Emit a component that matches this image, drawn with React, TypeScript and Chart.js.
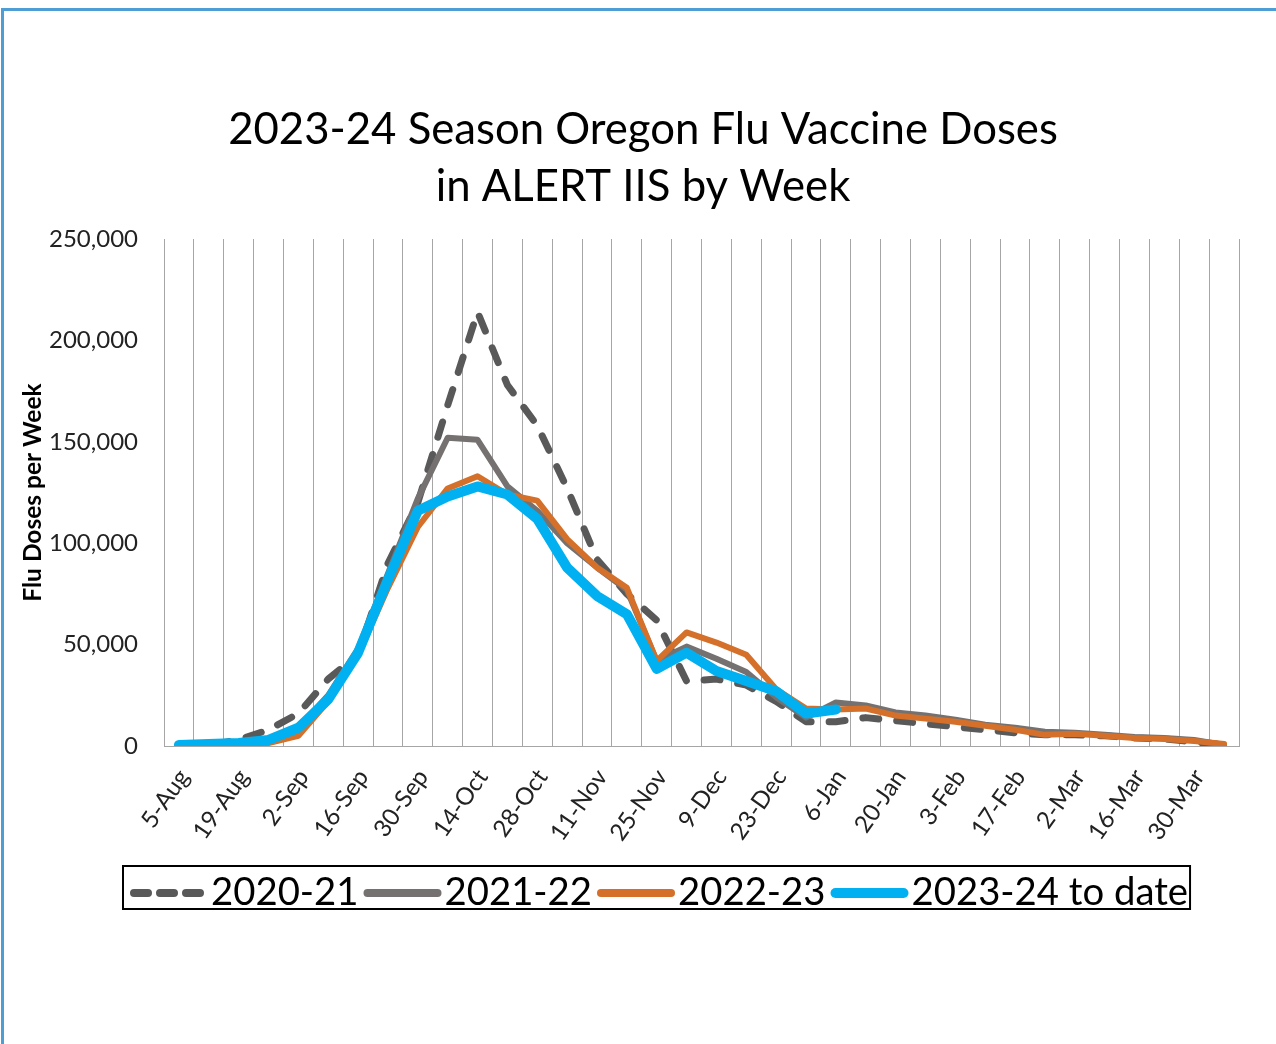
import React, { useEffect, useRef } from "react";
import { Chart, registerables } from "chart.js";

Chart.register(...registerables);

const weeks = [
  "5-Aug", "12-Aug", "19-Aug", "26-Aug", "2-Sep", "9-Sep", "16-Sep", "23-Sep", "30-Sep",
  "7-Oct", "14-Oct", "21-Oct", "28-Oct", "4-Nov", "11-Nov", "18-Nov", "25-Nov", "2-Dec",
  "9-Dec", "16-Dec", "23-Dec", "30-Dec", "6-Jan", "13-Jan", "20-Jan", "27-Jan", "3-Feb",
  "10-Feb", "17-Feb", "24-Feb", "2-Mar", "9-Mar", "16-Mar", "23-Mar", "30-Mar", "6-Apr",
];

const doses2020 = [
  0, 500, 3000, 8000, 16000, 33000, 45000, 90000, 120000, 168000,
  214000, 178000, 158000, 127000, 92000, 75000, 62000, 32000, 33000, 30000,
  22000, 12000, 12000, 14000, 12500, 11000, 9500, 8000, 6500, 5500,
  5500, 5000, 4000, 3500, 2000, 500,
];

const doses2021 = [
  500, 1000, 1500, 3000, 9000, 25000, 48000, 85000, 122000, 152000,
  151000, 128000, 116000, 100000, 88000, 77000, 42000, 49000, 43000, 36500,
  24000, 14000, 21500, 20000, 16500, 15000, 13000, 10500, 9000, 7000,
  6500, 5500, 4500, 4000, 3000, 500,
];

const doses2022 = [
  200, 500, 800, 1500, 5000, 22000, 45000, 78000, 108000, 127000,
  133000, 124000, 121000, 102000, 88000, 78000, 42000, 56000, 51000, 45000,
  28000, 18500, 18000, 18500, 15000, 13500, 12000, 10000, 8000, 5500,
  6000, 5000, 4000, 3500, 2500, 1000,
];

const doses2023 = [
  500, 1000, 1500, 3000, 9000, 23000, 46000, 82000, 116000, 123000,
  128000, 124000, 112000, 88000, 74000, 65000, 38000, 46000, 37000, 32000,
  27000, 16000, 18000,
];

const seriesLabels = ["2020-21", "2021-22", "2022-23", "2023-24 to date"];
const titleLines = ["2023-24 Season Oregon Flu Vaccine Doses", "in ALERT IIS by Week"];
const yTitle = "Flu Doses per Week";

const FONT = "Lato, 'Open Sans', sans-serif";

const boxLegend = {
  id: "boxLegend",
  afterDraw(chart: any, _args: any, opts: any) {
    const ctx = chart.ctx;
    ctx.save();
    ctx.font = opts.font;
    let x = opts.left + opts.inset;
    chart.data.datasets.forEach((ds: any) => {
      const w = ds.legendWidth || ds.borderWidth;
      ctx.beginPath();
      ctx.setLineDash(ds.legendDash || []);
      ctx.lineWidth = w;
      ctx.strokeStyle = ds.borderColor;
      ctx.lineCap = "round";
      ctx.moveTo(x + w / 2, opts.lineY);
      ctx.lineTo(x + opts.sampleWidth - w / 2, opts.lineY);
      ctx.stroke();
      ctx.setLineDash([]);
      x += opts.sampleWidth + opts.gapAfterSample;
      ctx.fillStyle = "#000";
      ctx.textAlign = "left";
      ctx.textBaseline = "alphabetic";
      ctx.fillText(ds.label, x, opts.textY);
      x += ctx.measureText(ds.label).width + opts.gapAfterText;
    });
    const right = Math.max(opts.right, x - opts.gapAfterText + 2);
    ctx.lineWidth = 2;
    ctx.strokeStyle = "#000";
    ctx.strokeRect(opts.left, opts.top, right - opts.left, opts.bottom - opts.top);
    ctx.restore();
  },
};

export default function App() {
  const ref = useRef<HTMLCanvasElement | null>(null);

  useEffect(() => {
    if (!ref.current) return;
    const tickFont = { family: FONT, size: 24 };
    const chart = new Chart(ref.current, {
      type: "line",
      data: {
        labels: weeks,
        datasets: [
          {
            label: seriesLabels[0],
            data: doses2020,
            borderColor: "#595959",
            borderWidth: 7,
            borderDash: [16, 18],
            borderCapStyle: "round",
            borderJoinStyle: "round",
            pointRadius: 0,
            legendDash: [14, 12],
            legendWidth: 8,
            order: 4,
          } as any,
          {
            label: seriesLabels[1],
            data: doses2021,
            borderColor: "#767171",
            borderWidth: 6,
            borderCapStyle: "round",
            borderJoinStyle: "round",
            pointRadius: 0,
            legendWidth: 8,
            order: 3,
          } as any,
          {
            label: seriesLabels[2],
            data: doses2022,
            borderColor: "#D4702A",
            borderWidth: 6,
            borderCapStyle: "round",
            borderJoinStyle: "round",
            pointRadius: 0,
            legendWidth: 8,
            order: 2,
          } as any,
          {
            label: seriesLabels[3],
            data: doses2023,
            borderColor: "#00B0F0",
            borderWidth: 10,
            borderCapStyle: "round",
            borderJoinStyle: "round",
            pointRadius: 0,
            legendWidth: 10,
            order: 1,
          } as any,
        ],
      },
      options: {
        responsive: false,
        animation: false,
        devicePixelRatio: 1,
        layout: { padding: { left: 47, right: 47, top: 0, bottom: 188 } },
        plugins: {
          legend: { display: false },
          tooltip: { enabled: false },
          title: {
            display: true,
            text: titleLines,
            color: "#000",
            font: { family: FONT, size: 43.7, weight: "normal", lineHeight: 1.3 },
            padding: { top: 102, bottom: 23.4 },
          },
          boxLegend: {
            left: 123,
            right: 1189,
            top: 866,
            bottom: 909,
            inset: 7,
            lineY: 893,
            textY: 905,
            sampleWidth: 78,
            gapAfterSample: 3,
            gapAfterText: 5,
            font: `38.3px ${FONT}`,
          },
        } as any,
        scales: {
          x: {
            type: "category",
            offset: true,
            grid: { offset: true, color: "#a6a6a6", lineWidth: 1, drawTicks: false },
            border: { color: "#a6a6a6", width: 1 },
            ticks: {
              autoSkip: false,
              maxRotation: 55,
              minRotation: 55,
              padding: 18,
              labelOffset: 5,
              color: "#222",
              font: tickFont,
              callback: (_v: any, i: number) => (i % 2 === 0 ? weeks[i] : ""),
            },
            afterFit: (s: any) => {
              s.height = 110;
            },
          },
          y: {
            min: 0,
            max: 250000,
            grid: { display: false, drawTicks: false },
            border: { display: false },
            ticks: {
              stepSize: 50000,
              padding: 26,
              color: "#222",
              font: tickFont,
              callback: (v: any) => Number(v).toLocaleString("en-US"),
            },
            title: {
              display: true,
              text: yTitle,
              color: "#000",
              font: { family: FONT, size: 24.5, weight: "bold", lineHeight: 1.2 },
              padding: { top: -28.7, bottom: 0 },
            },
            afterFit: (s: any) => {
              s.width = 117;
            },
          },
        },
      } as any,
      plugins: [boxLegend],
    });
    return () => chart.destroy();
  }, []);

  return (
    <div style={{ position: "fixed", left: 0, top: 0, width: 1276, height: 1044, overflow: "hidden", background: "#fff" }}>
      <canvas ref={ref} width={1286} height={1044} style={{ position: "absolute", left: 0, top: 0, width: 1286, height: 1044 }} />
      <div
        style={{
          position: "absolute",
          left: 1,
          top: 8,
          width: 1400,
          height: 1200,
          borderTop: "3px solid #4E9DD4",
          borderLeft: "3px solid #4E9DD4",
          pointerEvents: "none",
        }}
      />
    </div>
  );
}
